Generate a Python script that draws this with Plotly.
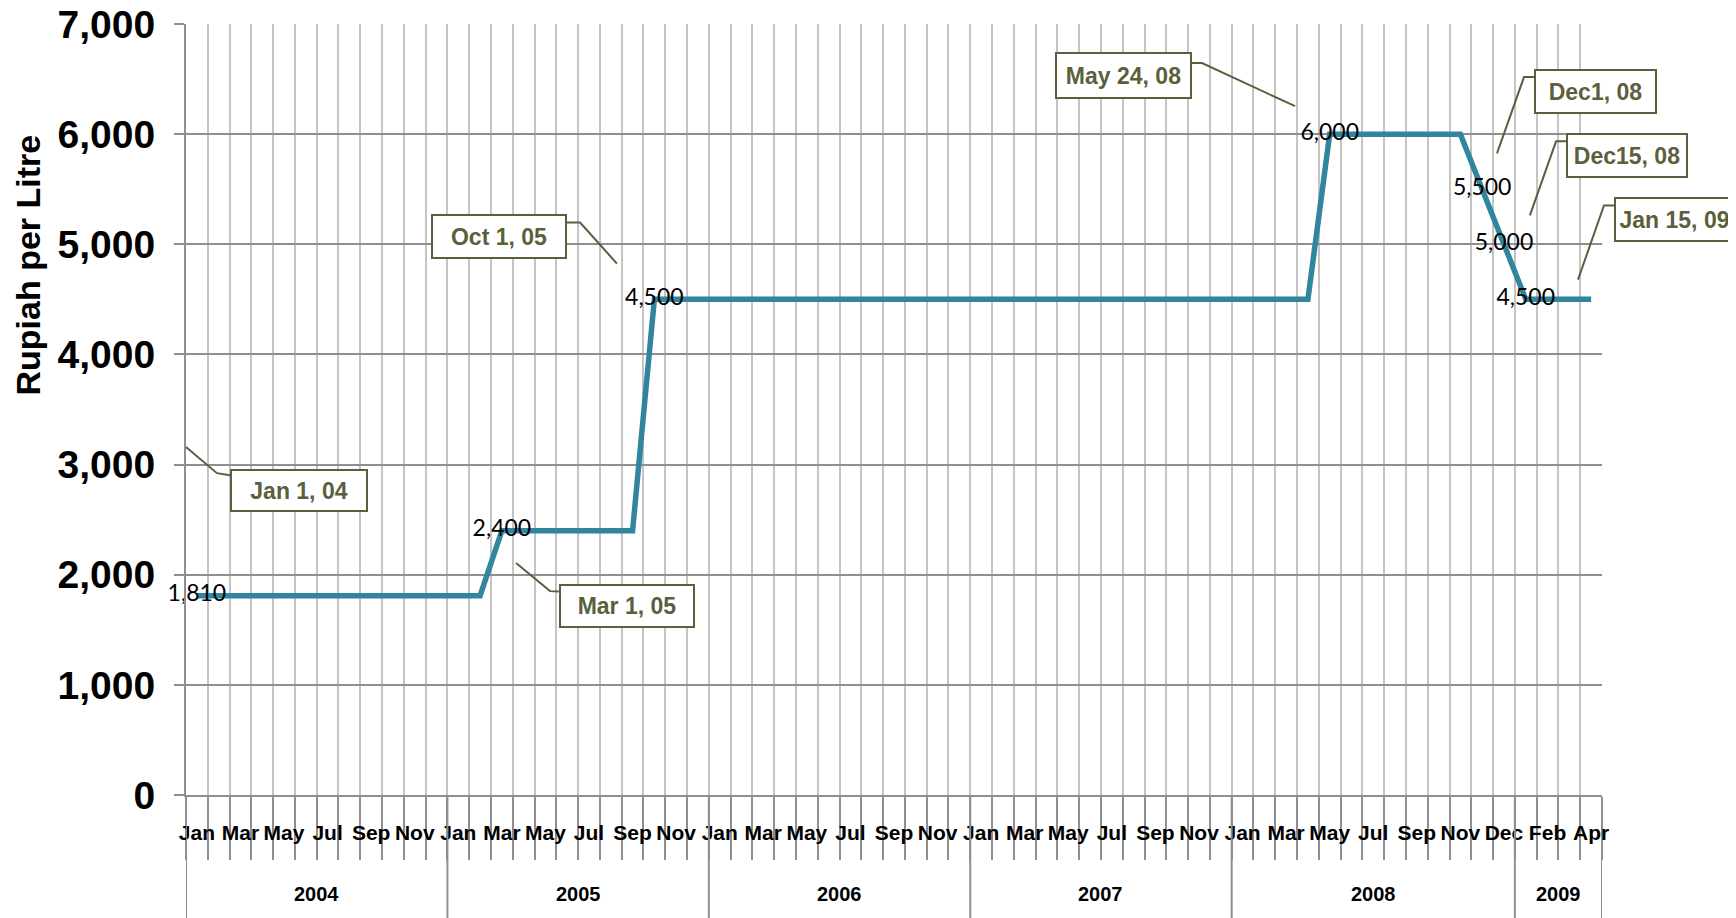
import plotly.graph_objects as go

# categories: one entry per month, 2008 has two December points (Dec 1 and Dec 15)
YEARS = ["2004", "2005", "2006", "2007", "2008", "2009"]
MONTHS = [
    ["Jan", "Feb", "Mar", "Apr", "May", "Jun", "Jul", "Aug", "Sep", "Oct", "Nov", "Dec"],
    ["Jan", "Feb", "Mar", "Apr", "May", "Jun", "Jul", "Aug", "Sep", "Oct", "Nov", "Dec"],
    ["Jan", "Feb", "Mar", "Apr", "May", "Jun", "Jul", "Aug", "Sep", "Oct", "Nov", "Dec"],
    ["Jan", "Feb", "Mar", "Apr", "May", "Jun", "Jul", "Aug", "Sep", "Oct", "Nov", "Dec"],
    ["Jan", "Feb", "Mar", "Apr", "May", "Jun", "Jul", "Aug", "Sep", "Oct", "Nov", "Dec", "Dec"],
    ["Jan", "Feb", "Mar", "Apr"],
]

# price in rupiah per litre
PRICE_2004 = [1810, 1810, 1810, 1810, 1810, 1810, 1810, 1810, 1810, 1810, 1810, 1810]
PRICE_2005 = [1810, 1810, 2400, 2400, 2400, 2400, 2400, 2400, 2400, 4500, 4500, 4500]
PRICE_2006 = [4500, 4500, 4500, 4500, 4500, 4500, 4500, 4500, 4500, 4500, 4500, 4500]
PRICE_2007 = [4500, 4500, 4500, 4500, 4500, 4500, 4500, 4500, 4500, 4500, 4500, 4500]
PRICE_2008 = [4500, 4500, 4500, 4500, 6000, 6000, 6000, 6000, 6000, 6000, 6000, 5500, 5000]
PRICE_2009 = [4500, 4500, 4500, 4500]

# callout texts with (tip, elbow, box edge, box centre) in data units, box size in px
CALLOUTS = [
    ("Jan 1, 04", (-0.5, 3159), (0.92, 2922), (1.52, 2904), (4.69, 2763), 138, 43),
    ("Mar 1, 05", (14.65, 2107), (16.21, 1851), (16.62, 1848), (19.74, 1720), 136, 44),
    ("Oct 1, 05", (19.28, 4825), (17.59, 5198), (16.99, 5198), (13.87, 5075), 136, 45),
    ("May 24, 08", (50.41, 6254), (46.14, 6645), (45.68, 6645), (42.53, 6531), 137, 47),
    ("Dec1, 08", (59.68, 5826), (60.92, 6518), (61.38, 6518), (64.20, 6386), 123, 45),
    ("Dec15, 08", (61.19, 5262), (62.39, 5935), (62.85, 5935), (65.65, 5803), 122, 45),
    ("Jan 15, 09", (63.40, 4679), (64.59, 5353), (65.05, 5353), (67.83, 5221), 121, 45),
]

months = [m for ms in MONTHS for m in ms]
prices = PRICE_2004 + PRICE_2005 + PRICE_2006 + PRICE_2007 + PRICE_2008 + PRICE_2009
idx = list(range(len(months)))
n = len(months)

# value labels only where the price changes
labels = []
for i, p in enumerate(prices):
    labels.append(f"{p:,}" if i == 0 or p != prices[i - 1] else "")

OLIVE = "#5b5f3c"
GRID_DARK = "#8f8f8f"
GRID_LIGHT = "#c4c4c4"
FONT = "Liberation Sans, Arial, sans-serif"

fig = go.Figure()
fig.add_trace(go.Scatter(
    x=idx, y=prices, mode="lines+text", text=labels,
    textposition="middle center",
    textfont=dict(family="Lato, Noto Sans, sans-serif", size=23, color="black"),
    line=dict(color="#31859c", width=5.5),
    cliponaxis=False, showlegend=False, hoverinfo="x+y",
))

# year separators and labels under the month row
shapes = []
annotations = []
start = 0
for year, ms in zip(YEARS, MONTHS):
    end = start + len(ms)
    annotations.append(dict(
        x=(start + end - 1) / 2, y=-0.129, xref="x", yref="paper",
        xanchor="center", yanchor="middle",
        text=f"<b>{year}</b>", showarrow=False,
        font=dict(family=FONT, size=20, color="black"),
    ))
    shapes.append(dict(type="line", xref="x", yref="paper",
                       x0=start - 0.5, x1=start - 0.5, y0=0, y1=-0.17,
                       line=dict(color=GRID_DARK, width=2)))
    start = end
shapes.append(dict(type="line", xref="x", yref="paper",
                   x0=n - 0.5, x1=n - 0.5, y0=0, y1=-0.17,
                   line=dict(color=GRID_DARK, width=2)))


def to_paper(pt):
    return (pt[0] + 0.5) / n, pt[1] / 7000


for text, tip, elbow, edge, centre, w, h in CALLOUTS:
    pts = [to_paper(p) for p in (tip, elbow, edge)]
    path = "M {} {} L {} {} L {} {}".format(*[c for p in pts for c in p])
    shapes.append(dict(type="path", xref="paper", yref="paper", path=path,
                       line=dict(color=OLIVE, width=2)))
    cx, cy = to_paper(centre)
    annotations.append(dict(
        x=cx, y=cy, xref="paper", yref="paper",
        xanchor="center", yanchor="middle",
        text=f"<b>{text}</b>", showarrow=False,
        width=w - 4, height=h - 4, borderpad=0,
        bordercolor=OLIVE, borderwidth=2, bgcolor="white",
        font=dict(family=FONT, size=23, color=OLIVE),
    ))

annotations.append(dict(
    x=-0.1116, y=0.688, xref="paper", yref="paper",
    text="<b>Rupiah per Litre</b>", textangle=-90, showarrow=False,
    xanchor="center", yanchor="middle",
    font=dict(family=FONT, size=34, color="black"),
))

# the page body adds 8px around the figure, so the figure is 8px smaller
fig.update_layout(
    width=1728, height=910,
    margin=dict(l=178, r=134, t=16, b=123, autoexpand=False),
    paper_bgcolor="white", plot_bgcolor="white",
    shapes=shapes, annotations=annotations,
    xaxis=dict(
        range=[-0.5, n - 0.5], automargin=False,
        tickmode="array", tickvals=idx[::2], ticktext=months[::2],
        ticks="", ticklabelstandoff=18, showgrid=False, zeroline=False,
        tickfont=dict(family=FONT, size=21, color="black", weight="bold"),
        showline=True, linecolor=GRID_DARK, linewidth=2,
        minor=dict(
            tickmode="array", tickvals=[i - 0.5 for i in range(n + 1)],
            ticks="outside", ticklen=63, tickwidth=2, tickcolor=GRID_DARK,
            showgrid=True, gridcolor=GRID_LIGHT, gridwidth=2,
        ),
    ),
    yaxis=dict(
        range=[0, 7000], tickmode="linear", tick0=0, dtick=1000,
        automargin=False, ticklabeloverflow="allow",
        tickformat=",", ticks="outside", ticklen=10, tickwidth=2,
        tickcolor=GRID_DARK, ticklabelstandoff=11,
        tickfont=dict(family=FONT, size=39, color="black", weight="bold"),
        showgrid=True, gridcolor=GRID_DARK, gridwidth=2, zeroline=False,
        showline=True, linecolor=GRID_DARK, linewidth=2,
    ),
)

fig.write_html("out.html")
